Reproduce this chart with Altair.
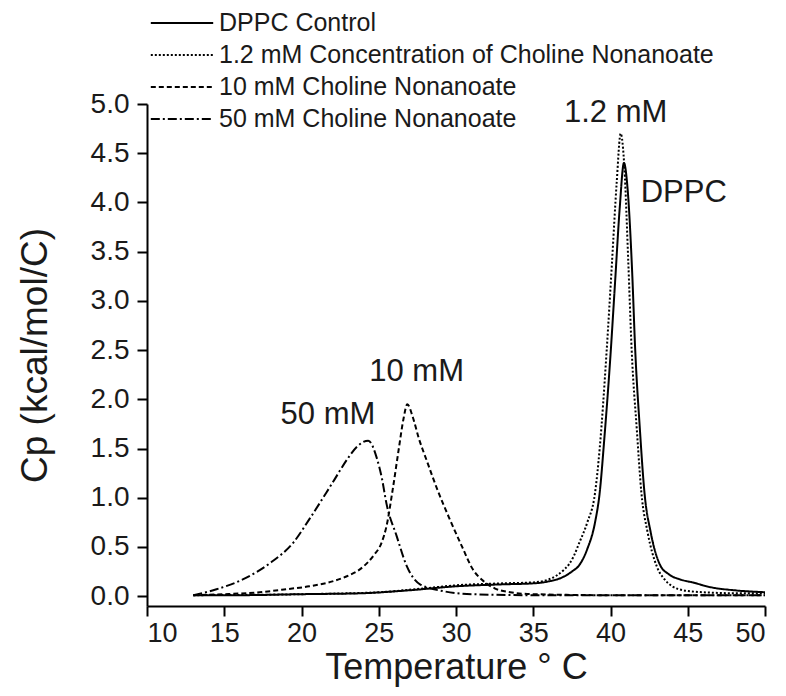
import altair as alt
import pandas as pd

series_names = [
    "DPPC Control",
    "1.2 mM Concentration of Choline Nonanoate",
    "10 mM Choline Nonanoate",
    "50 mM Choline Nonanoate",
]

dppc_t = [13, 16, 20, 24, 27, 30, 33, 35, 36, 37, 37.5, 38, 38.5, 39, 39.3, 39.6, 40.0, 40.3, 40.6, 40.87,
          41.1, 41.4, 41.6, 41.9, 42.2, 42.6, 43.2, 43.8, 44.5, 45.3, 46.5, 48, 50]
dppc_cp = [0.01, 0.01, 0.02, 0.03, 0.06, 0.10, 0.12, 0.13, 0.15, 0.20, 0.25, 0.32, 0.48, 0.75, 1.05, 1.6, 2.45,
           3.2, 3.95, 4.40, 4.15, 3.3, 2.5, 1.7, 1.05, 0.65, 0.32, 0.22, 0.17, 0.14, 0.09, 0.06, 0.04]

c12_t = [13, 20, 25, 28, 30, 33, 35, 36, 37, 37.3, 37.6, 38, 38.5, 39.0, 39.3, 39.75, 40.1, 40.4, 40.66,
         40.9, 41.15, 41.37, 41.7, 42.0, 42.4, 43.0, 43.5, 44, 44.7, 46, 48, 50]
c12_cp = [0.01, 0.02, 0.04, 0.08, 0.11, 0.13, 0.14, 0.17, 0.27, 0.32, 0.40, 0.55, 0.75, 1.05, 1.5, 2.49, 3.4,
          4.2, 4.70, 4.35, 3.4, 2.5, 1.7, 1.05, 0.65, 0.30, 0.17, 0.10, 0.06, 0.04, 0.03, 0.03]

c10_t = [13, 15, 17.3, 19, 20.5, 22, 22.9, 24, 24.65, 25.2, 25.5, 25.9, 26.3, 26.6, 26.85, 27.2, 27.6, 28.1,
         28.8, 29.6, 30.4, 31.1, 31.8, 32.5, 33.5, 35, 40, 45, 50]
c10_cp = [0.01, 0.02, 0.04, 0.07, 0.10, 0.15, 0.20, 0.30, 0.41, 0.55, 0.71, 1.08, 1.5, 1.8, 1.95, 1.82, 1.6,
          1.38, 1.08, 0.78, 0.5, 0.27, 0.15, 0.08, 0.04, 0.02, 0.01, 0.01, 0.01]

c50_t = [13, 14.5, 16.2, 18, 19.5, 20.5, 22, 23, 23.6, 24.32, 24.86, 25.2, 25.5, 26.16, 26.8, 27.67, 29.2, 31,
         35, 40, 45, 50]
c50_cp = [0.01, 0.07, 0.17, 0.34, 0.55, 0.78, 1.15, 1.40, 1.52, 1.58, 1.41, 1.2, 0.94, 0.61, 0.31, 0.12, 0.05,
          0.02, 0.01, 0.01, 0.01, 0.01]

label_text = ["1.2 mM", "DPPC", "10 mM", "50 mM"]
label_x = [40.33, 44.74, 27.45, 21.71]
label_y = [4.91, 4.10, 2.28, 1.84]

x_ticks = [10 + 2.5 * i for i in range(17)]
y_ticks = [0.25 * i for i in range(21)]

rows = []
for name, ts, cps in zip(series_names, [dppc_t, c12_t, c10_t, c50_t], [dppc_cp, c12_cp, c10_cp, c50_cp]):
    for i, (t, c) in enumerate(zip(ts, cps)):
        rows.append({"series": name, "T": t, "Cp": c, "i": i})
df = pd.DataFrame(rows)
labels = pd.DataFrame({"text": label_text, "T": label_x, "Cp": label_y})

FONT = "Liberation Sans"
INK = "#1a1a1a"

y_major = "abs(datum.value*2 - round(datum.value*2)) < 0.001"

x_enc = alt.X(
    "T:Q",
    scale=alt.Scale(domain=[10, 50], nice=False, zero=False),
    axis=alt.Axis(
        title="Temperature ° C",
        values=x_ticks,
        labelExpr="datum.value % 5 === 0 ? datum.label : ''",
        tickSize={"condition": {"test": "datum.value % 5 === 0", "value": 10}, "value": 5},
        labelPadding=4,
        labelFontSize=27,
        titleFontSize=36,
        titlePadding=4,
    ),
)
y_enc = alt.Y(
    "Cp:Q",
    scale=alt.Scale(domain=[-0.1, 5.0], nice=False, zero=False),
    axis=alt.Axis(
        title="Cp (kcal/mol/C)",
        values=y_ticks,
        format=".1f",
        labelExpr=y_major + " ? datum.label : ''",
        tickSize={"condition": {"test": y_major, "value": 10}, "value": 5},
        labelPadding=8,
        labelFontSize=28,
        titleFontSize=37,
        titlePadding=36,
    ),
)

lines = alt.Chart(df).mark_line(color="black", strokeWidth=2, interpolate="monotone").encode(
    x=x_enc,
    y=y_enc,
    order="i:Q",
    detail="series:N",
    strokeDash=alt.StrokeDash(
        "series:N",
        scale=alt.Scale(domain=series_names, range=[[1, 0], [2, 2], [5, 3], [9, 3, 2, 3]]),
        sort=series_names,
        legend=alt.Legend(
            title=None,
            orient="none",
            legendX=22,
            legendY=-94,
            padding=0,
            symbolType="M-2.6,0H2.6",
            symbolSize=576,
            symbolStrokeWidth=2,
            symbolStrokeColor="black",
            symbolFillColor="transparent",
            labelFontSize=25,
            labelFont=FONT,
            labelColor=INK,
            rowPadding=6,
            labelOffset=24,
            labelLimit=700,
        ),
    ),
)

text = alt.Chart(labels).mark_text(font=FONT, fontSize=31, color=INK).encode(
    x="T:Q", y="Cp:Q", text="text:N"
)

chart = (
    alt.layer(lines, text)
    .properties(
        width=618,
        height=502,
        autosize=alt.AutoSizeParams(type="none"),
        padding={"left": 139, "top": 96, "right": 10, "bottom": 82},
    )
    .configure_view(stroke=None)
    .configure_axis(
        domainColor="black",
        domainWidth=2,
        tickColor="black",
        tickWidth=2,
        grid=False,
        labelFont=FONT,
        labelColor=INK,
        titleFont=FONT,
        titleFontWeight="normal",
        titleColor=INK,
    )
)

chart.save("out.html", embed_options={"renderer": "svg", "actions": False})
